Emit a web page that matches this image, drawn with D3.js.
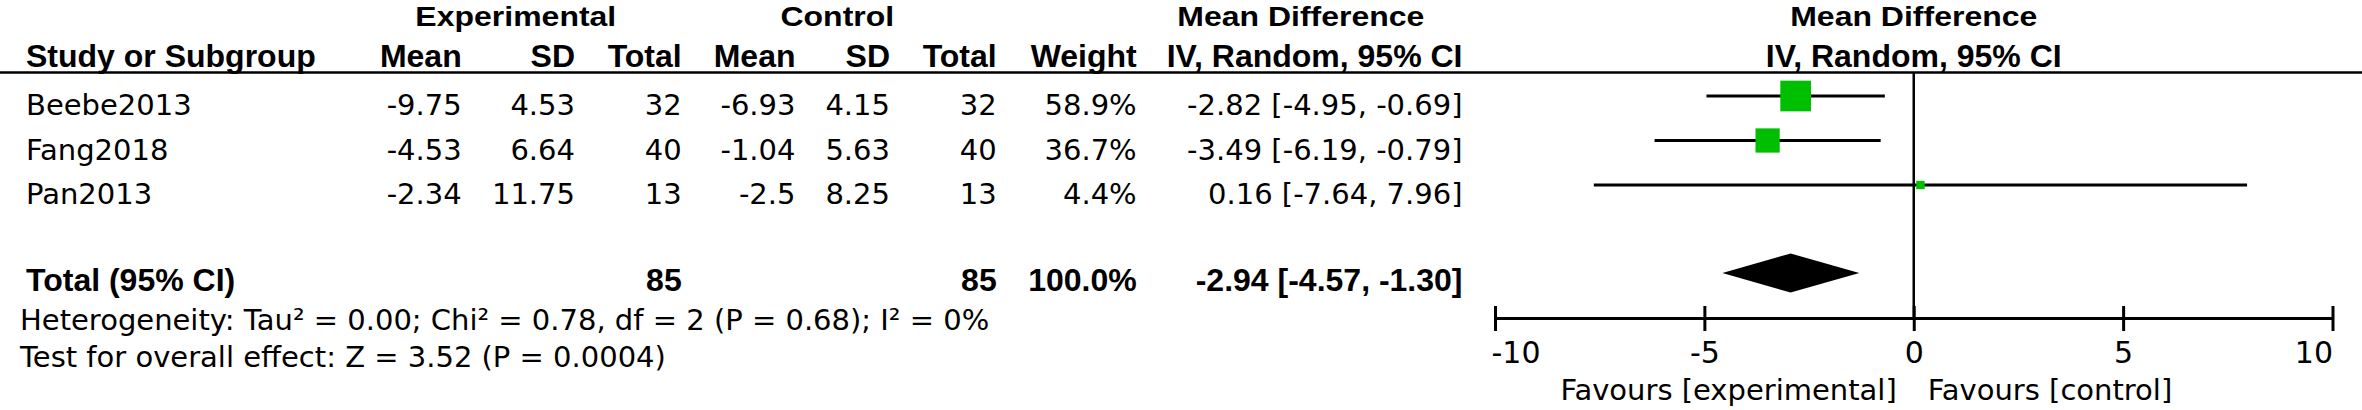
<!DOCTYPE html>
<html>
<head>
<meta charset="utf-8">
<script src="https://cdn.jsdelivr.net/npm/d3@7/dist/d3.min.js"></script>
<style>
  html, body { margin: 0; padding: 0; background: #ffffff; }
  svg { display: block; }
  .hdr { font-family: "Liberation Sans", Arial, sans-serif; font-weight: bold; font-size: 32px; fill: #000; }
  .body { font-family: "DejaVu Sans", sans-serif; font-size: 29px; fill: #000; }
  .tot { font-family: "Liberation Sans", Arial, sans-serif; font-weight: bold; font-size: 32px; fill: #000; }
  .tick text { font-family: "DejaVu Sans", sans-serif; font-size: 30px; fill: #000; }
</style>
</head>
<body>
<svg id="chart" width="2362" height="410"></svg>
<script>
// ---- data ----
const studies   = ["Beebe2013", "Fang2018", "Pan2013"];
const expMean   = [-9.75, -4.53, -2.34];
const expSD     = [4.53, 6.64, 11.75];
const expTotal  = [32, 40, 13];
const ctrlMean  = [-6.93, -1.04, -2.5];
const ctrlSD    = [4.15, 5.63, 8.25];
const ctrlTotal = [32, 40, 13];
const weights   = [58.9, 36.7, 4.4];
const md        = [-2.82, -3.49, 0.16];
const ciLow     = [-4.95, -6.19, -7.64];
const ciHigh    = [-0.69, -0.79, 7.96];

const totalLabel   = "Total (95% CI)";
const totalExpN    = 85;
const totalCtrlN   = 85;
const totalWeight  = 100.0;
const totalMD      = [-2.94, -4.57, -1.30];   // estimate, lower, upper

const heterogeneityText = "Heterogeneity: Tau\u00B2 = 0.00; Chi\u00B2 = 0.78, df = 2 (P = 0.68); I\u00B2 = 0%";
const overallText       = "Test for overall effect: Z = 3.52 (P = 0.0004)";

const tickValues   = [-10, -5, 0, 5, 10];
const favoursLeft  = "Favours [experimental]";
const favoursRight = "Favours [control]";

const groupHeaders = ["Experimental", "Control", "Mean Difference"];
const colHeaders   = ["Mean", "SD", "Total", "Mean", "SD", "Total", "Weight", "IV, Random, 95% CI"];

// ---- layout ----
const W = 2362, H = 410;
const svg = d3.select("#chart");

const x = d3.scaleLinear().domain([-10, 10]).range([1495, 2332.5]);
const yRow = d3.scaleLinear().domain([0, 1]).range([96, 140.5]);   // row centre lines
const boxSize = d3.scaleSqrt().domain([0, 100]).range([0, 40]);

const colRight = [461.7, 575, 681.7, 795.5, 890, 996.7, 1136.7, 1462.5];
const groupCentre = [515.8, 837.3, 1300.8];
const nameX = 26;
const textOff = 19;
const hdr1Y = 26, hdr2Y = 67, ruleY = 72.5;
const axisY = 318;
const foot1Y = 330, foot2Y = 367;

const fmt2 = v => v.toFixed(2);
const fmtCI = (m, lo, hi) => `${fmt2(m)} [${fmt2(lo)}, ${fmt2(hi)}]`;

// ---- headers (top row is slightly squashed vertically in the original) ----
const topHeaders = groupHeaders.map((t, i) => ({ t, cx: groupCentre[i] }))
  .concat([{ t: "Mean Difference", cx: x(0) }]);
svg.selectAll("text.g1").data(topHeaders).enter().append("text")
  .attr("class", "hdr g1")
  .attr("transform", d => `translate(${d.cx},${hdr1Y}) scale(1,0.85)`)
  .attr("text-anchor", "middle").text(d => d.t);

svg.append("text").attr("class", "hdr").attr("x", nameX).attr("y", hdr2Y).text("Study or Subgroup");
svg.selectAll("text.g2").data(colHeaders).enter().append("text")
  .attr("class", "hdr g2")
  .attr("x", (d, i) => colRight[i]).attr("y", hdr2Y)
  .attr("text-anchor", "end").text(d => d);
svg.append("text").attr("class", "hdr")
  .attr("x", x(0)).attr("y", hdr2Y).attr("text-anchor", "middle").text("IV, Random, 95% CI");

svg.append("line").attr("x1", 0).attr("x2", W).attr("y1", ruleY).attr("y2", ruleY)
  .attr("stroke", "#000").attr("stroke-width", 2.5);

// ---- study rows ----
const rows = studies.map((s, i) => ({
  i, name: s,
  cells: [String(expMean[i]), String(expSD[i]), String(expTotal[i]),
          String(ctrlMean[i]), String(ctrlSD[i]), String(ctrlTotal[i]),
          weights[i].toFixed(1) + "%", fmtCI(md[i], ciLow[i], ciHigh[i])]
}));

const rowG = svg.selectAll("g.row").data(rows).enter().append("g").attr("class", "row");
rowG.append("text").attr("class", "body")
  .attr("x", nameX).attr("y", d => yRow(d.i) + textOff).text(d => d.name);
rowG.each(function (d) {
  d3.select(this).selectAll("text.cell").data(d.cells).enter().append("text")
    .attr("class", "body cell")
    .attr("x", (c, j) => colRight[j]).attr("y", yRow(d.i) + textOff)
    .attr("text-anchor", "end").text(c => c);
});

// ---- total row ----
const totIdx = 4;
const totCells = [
  { col: 2, t: String(totalExpN) },
  { col: 5, t: String(totalCtrlN) },
  { col: 6, t: totalWeight.toFixed(1) + "%" },
  { col: 7, t: fmtCI(totalMD[0], totalMD[1], totalMD[2]) }
];
svg.append("text").attr("class", "tot").attr("x", nameX).attr("y", yRow(totIdx) + textOff - 2).text(totalLabel);
svg.selectAll("text.totc").data(totCells).enter().append("text")
  .attr("class", "tot totc")
  .attr("x", d => colRight[d.col]).attr("y", yRow(totIdx) + textOff - 2)
  .attr("text-anchor", "end").text(d => d.t);

// ---- footer ----
svg.append("text").attr("class", "body").attr("x", 20).attr("y", foot1Y).text(heterogeneityText);
svg.append("text").attr("class", "body").attr("x", 20).attr("y", foot2Y).text(overallText);

// ---- forest plot ----
svg.append("line")
  .attr("x1", x(0)).attr("x2", x(0)).attr("y1", ruleY).attr("y2", axisY)
  .attr("stroke", "#000").attr("stroke-width", 2.5);

const plotG = svg.append("g");
plotG.selectAll("line.ci").data(rows).enter().append("line")
  .attr("class", "ci")
  .attr("x1", d => x(ciLow[d.i])).attr("x2", d => x(ciHigh[d.i]))
  .attr("y1", d => yRow(d.i)).attr("y2", d => yRow(d.i))
  .attr("stroke", "#000").attr("stroke-width", 3);
plotG.selectAll("rect.box").data(rows).enter().append("rect")
  .attr("class", "box")
  .attr("x", d => x(md[d.i]) - boxSize(weights[d.i]) / 2)
  .attr("y", d => yRow(d.i) - boxSize(weights[d.i]) / 2)
  .attr("width", d => boxSize(weights[d.i]))
  .attr("height", d => boxSize(weights[d.i]))
  .attr("fill", "#00bf00");

const dh = 19.5;
const yT = yRow(totIdx) - 1;
plotG.append("path")
  .attr("d", `M${x(totalMD[1])},${yT} L${x(totalMD[0])},${yT - dh} L${x(totalMD[2])},${yT} L${x(totalMD[0])},${yT + dh} Z`)
  .attr("fill", "#000");

// axis
const axis = d3.axisBottom(x).tickValues(tickValues).tickSizeInner(13).tickSizeOuter(0)
  .tickFormat(d => String(d));
const axG = svg.append("g").attr("transform", `translate(0,${axisY})`).call(axis);
axG.select(".domain").attr("stroke", "#000").attr("stroke-width", 3);
axG.selectAll(".tick line").attr("y1", -12).attr("y2", 13).attr("stroke", "#000").attr("stroke-width", 3);
axG.selectAll(".tick text").attr("y", 45).attr("dy", null)
  .attr("text-anchor", (d, i, n) => i === 0 ? "start" : (i === n.length - 1 ? "end" : "middle"))
  .attr("dx", (d, i, n) => i === 0 ? -4 : 0);

svg.append("text").attr("class", "body").attr("x", x(0) - 17).attr("y", 400)
  .attr("text-anchor", "end").text(favoursLeft);
svg.append("text").attr("class", "body").attr("x", x(0) + 14).attr("y", 400)
  .attr("text-anchor", "start").text(favoursRight);
</script>
</body>
</html>
